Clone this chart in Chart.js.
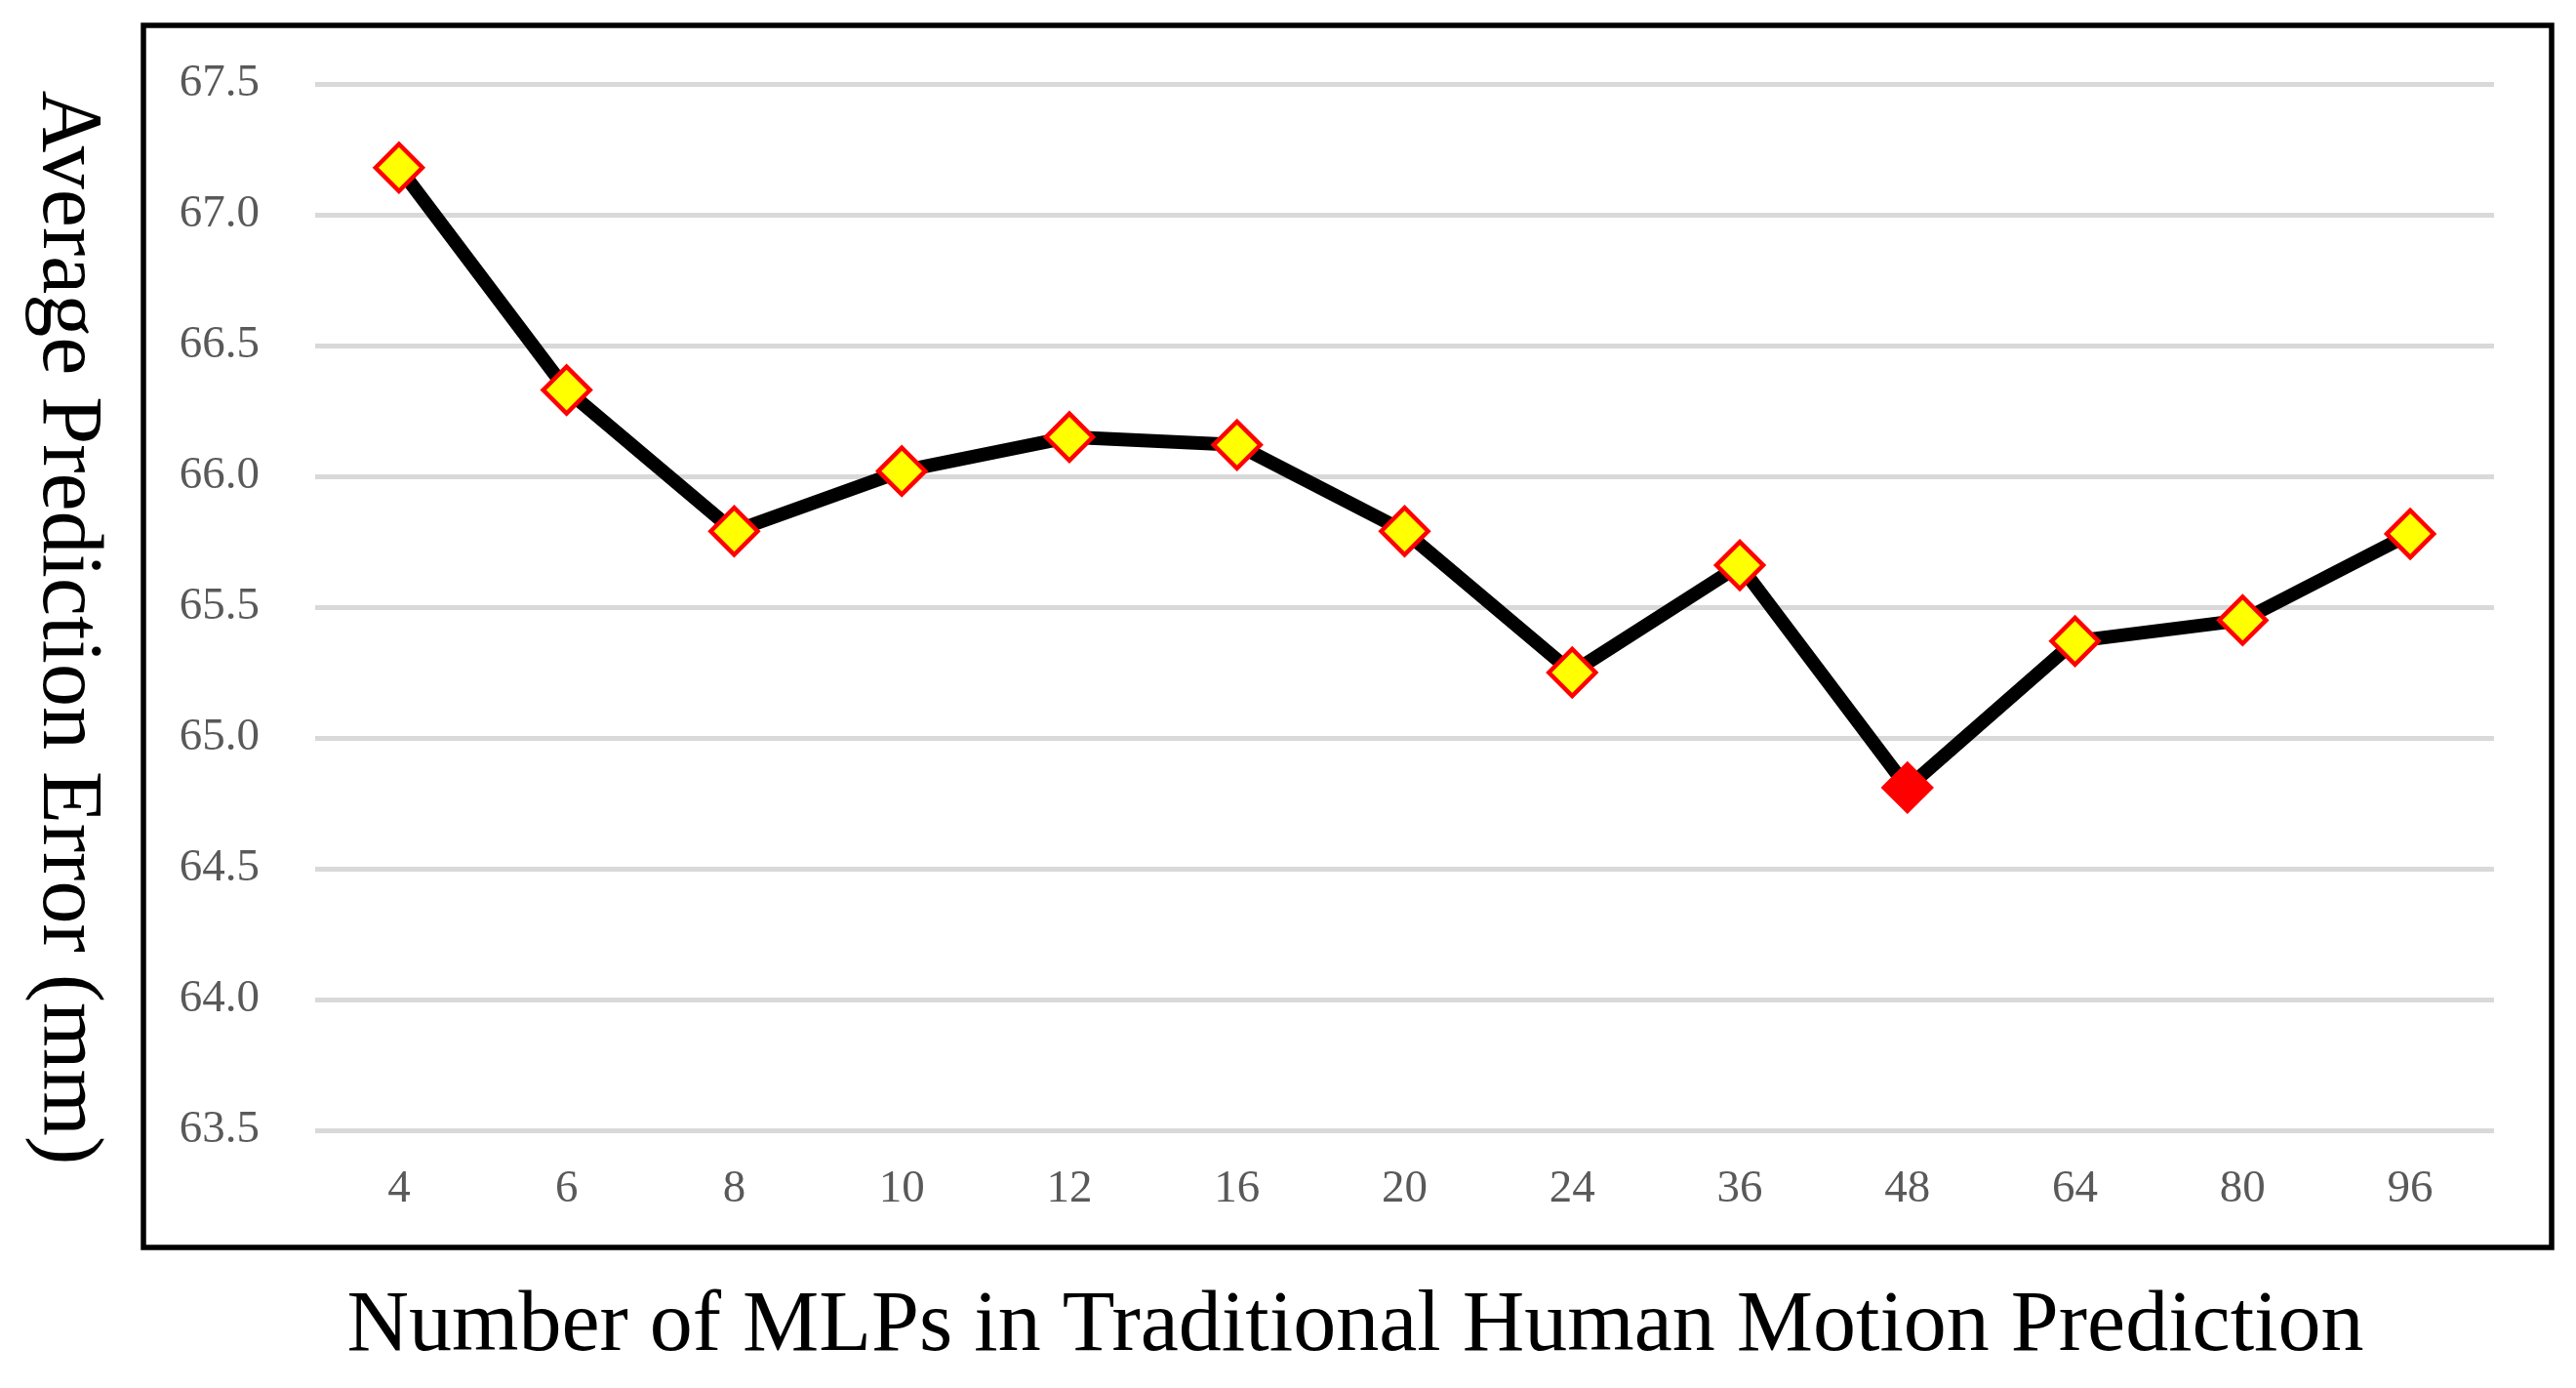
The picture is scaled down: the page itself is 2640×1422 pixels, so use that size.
<!DOCTYPE html>
<html>
<head>
<meta charset="utf-8">
<style>
  html, body { margin: 0; padding: 0; background: #ffffff; }
  #wrap { width: 2640px; height: 1422px; position: relative; }
  canvas { display: block; }
</style>
<script src="https://cdn.jsdelivr.net/npm/chart.js@4.4.1/dist/chart.umd.min.js"></script>
</head>
<body>
<div id="wrap"><canvas id="chart" width="2640" height="1422"></canvas></div>
<script>
// ---- data ----
const categories = ['4', '6', '8', '10', '12', '16', '20', '24', '36', '48', '64', '80', '96'];
const errorValues = [67.18, 66.33, 65.79, 66.02, 66.15, 66.12, 65.79, 65.25, 65.66, 64.81, 65.37, 65.45, 65.78];
const yTickValues = [63.5, 64.0, 64.5, 65.0, 65.5, 66.0, 66.5, 67.0, 67.5];
const xTitle = 'Number of MLPs in Traditional Human Motion Prediction';
const yTitle = 'Average Prediction Error (mm)';

const bestIndex = errorValues.indexOf(Math.min(...errorValues));
const pointFills = errorValues.map((v, i) => i === bestIndex ? '#ff0000' : '#ffff00');

const SERIF = "'Liberation Serif', 'Times New Roman', serif";

const decor = {
  id: 'decor',
  afterDraw(chart) {
    const ctx = chart.ctx;
    ctx.save();
    // outer frame around the plot
    ctx.lineWidth = 5.5;
    ctx.strokeStyle = '#000000';
    ctx.strokeRect(147, 26, 2615 - 147, 1278 - 26);
    // axis titles
    ctx.fillStyle = '#000000';
    ctx.font = '88px ' + SERIF;
    ctx.textAlign = 'center';
    ctx.textBaseline = 'alphabetic';
    ctx.fillText(xTitle, 1389, 1383);
    ctx.translate(45, 643);
    ctx.rotate(Math.PI / 2);
    ctx.fillText(yTitle, 0, 0);
    ctx.restore();
  }
};

new Chart(document.getElementById('chart'), {
  type: 'line',
  data: {
    labels: categories,
    datasets: [{
      data: errorValues,
      borderColor: '#000000',
      borderWidth: 14,
      borderJoinStyle: 'round',
      borderCapStyle: 'round',
      tension: 0,
      fill: false,
      pointStyle: 'rectRot',
      pointRadius: 24,
      pointHoverRadius: 24,
      pointBorderWidth: 4.5,
      pointBorderColor: '#ff0000',
      pointBackgroundColor: pointFills,
      clip: false
    }]
  },
  options: {
    responsive: false,
    animation: false,
    devicePixelRatio: 1,
    layout: { padding: { left: 0, top: 86, right: 84, bottom: 0 } },
    plugins: { legend: { display: false }, tooltip: { enabled: false } },
    scales: {
      x: {
        type: 'category',
        offset: true,
        grid: { display: false },
        border: { display: false },
        ticks: {
          color: '#595959',
          font: { family: SERIF, size: 47 },
          padding: 24,
          maxRotation: 0,
          autoSkip: false
        },
        afterFit(scale) { scale.height = 264; }
      },
      y: {
        min: 63.5,
        max: 67.5,
        grid: { color: '#d9d9d9', lineWidth: 5, drawTicks: false },
        border: { display: false },
        ticks: {
          color: '#595959',
          font: { family: SERIF, size: 47 },
          padding: 57,
          callback: (v) => Number(v).toFixed(1)
        },
        afterBuildTicks(scale) { scale.ticks = yTickValues.map(v => ({ value: v })); },
        afterFit(scale) { scale.width = 323; }
      }
    }
  },
  plugins: [decor]
});
</script>
</body>
</html>
